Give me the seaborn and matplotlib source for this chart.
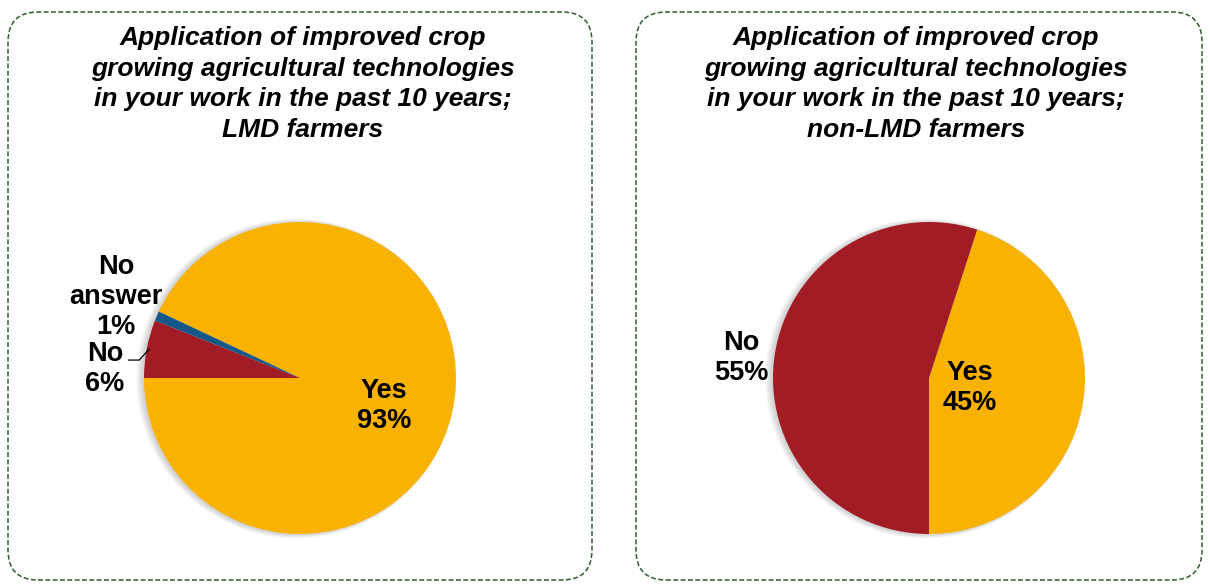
import numpy as np
import matplotlib
matplotlib.use("Agg")
import matplotlib.pyplot as plt
from matplotlib.patches import FancyBboxPatch, Circle
import seaborn as sns

sns.set_theme(style="white")
plt.rcParams["font.family"] = ["Liberation Sans", "DejaVu Sans"]
plt.rcParams["text.color"] = "black"

# Survey answers
lmd_labels = ["Yes", "No", "No\nanswer"]
lmd_values = [93, 6, 1]
non_lmd_labels = ["Yes", "No"]
non_lmd_values = [45, 55]

title_lmd = ("Application of improved crop\ngrowing agricultural technologies\n"
             "in your work in the past 10 years;\nLMD farmers")
title_non = ("Application of improved crop\ngrowing agricultural technologies\n"
             "in your work in the past 10 years;\nnon-LMD farmers")

palette = {"Yes": "#F9B200", "No": "#A21C26", "No\nanswer": "#16578A"}

W, H = 1210, 585
fig = plt.figure(figsize=(W / 100, H / 100), dpi=100)
fig.patch.set_facecolor("white")

PAD = 1.06  # axes half-width in pie radii, leaves room for the edge


def px_box(x0, y0, x1, y1):
    """Rounded dashed frame given in top-left pixel coordinates."""
    box = FancyBboxPatch((x0, H - y1), x1 - x0, y1 - y0,
                         boxstyle="round,pad=0,rounding_size=30",
                         transform=None, facecolor="none",
                         edgecolor="#2F5F2F", linewidth=1.1,
                         linestyle=(0, (3.2, 1.6)))
    fig.patches.append(box)


def pie_axes(cx, cy, r):
    R = r * PAD
    return fig.add_axes([(cx - R) / W, (H - cy - R) / H, 2 * R / W, 2 * R / H])


def soft_shadow(ax):
    for i in range(6):
        ax.add_patch(Circle((-0.010 - 0.003 * i, -0.003), 1.0 + 0.005 * i,
                            color="black", alpha=0.03, lw=0, zorder=0))


def draw_pie(ax, labels, values, start):
    soft_shadow(ax)
    wedges, _ = ax.pie(values, colors=[palette[l] for l in labels],
                       startangle=start, counterclock=False, radius=1.0,
                       wedgeprops=dict(linewidth=0, antialiased=True))
    for w in wedges:
        w.set_zorder(2)
    ax.set_xlim(-PAD, PAD)
    ax.set_ylim(-PAD, PAD)
    ax.set_aspect("equal")
    ax.axis("off")
    return wedges


def mid(w):
    return np.deg2rad((w.theta1 + w.theta2) / 2)


lab_kw = dict(ha="center", va="center", fontsize=19.5, fontweight="bold",
              color="black", linespacing=1.2, zorder=5, clip_on=False)
title_kw = dict(ha="center", va="center", fontsize=19, fontweight="bold",
                fontstyle="italic", linespacing=1.35, color="black")

# Left panel: LMD farmers
px_box(8, 12, 592, 580)
fig.text(303 / W, 1 - 84 / H, title_lmd, **title_kw)
axL = pie_axes(300, 378, 156)
wL = draw_pie(axL, lmd_labels, lmd_values, start=90 + 64.8)

a = mid(wL[0])
axL.text(0.55 * np.cos(a), 0.55 * np.sin(a) - 0.06,
         f"{lmd_labels[0]}\n{lmd_values[0]}%", **lab_kw)

# small slices labelled outside the pie, with a short leader for "No"
axL.text(-1.25, 0.06, f"{lmd_labels[1]}\n{lmd_values[1]}%", **lab_kw)
axL.text(-1.18, 0.52, f"{lmd_labels[2]}\n{lmd_values[2]}%", **lab_kw)
a_no = mid(wL[1])
axL.plot([-1.10, -1.03, np.cos(a_no) * 0.985], [0.115, 0.115, np.sin(a_no) * 0.985],
         color="black", lw=0.9, zorder=6, clip_on=False)

# Right panel: non-LMD farmers
px_box(636, 12, 1202, 580)
fig.text(916 / W, 1 - 84 / H, title_non, **title_kw)
axR = pie_axes(929, 378, 156)
wR = draw_pie(axR, non_lmd_labels, non_lmd_values, start=72)

a = mid(wR[0])
axR.text(0.265 * np.cos(a), 0.265 * np.sin(a) - 0.02,
         f"{non_lmd_labels[0]}\n{non_lmd_values[0]}%", **lab_kw)
a = mid(wR[1])
axR.text(1.22 * np.cos(a), 1.22 * np.sin(a) - 0.06,
         f"{non_lmd_labels[1]}\n{non_lmd_values[1]}%", **lab_kw)

fig.savefig("out.png", dpi=100, facecolor="white")
